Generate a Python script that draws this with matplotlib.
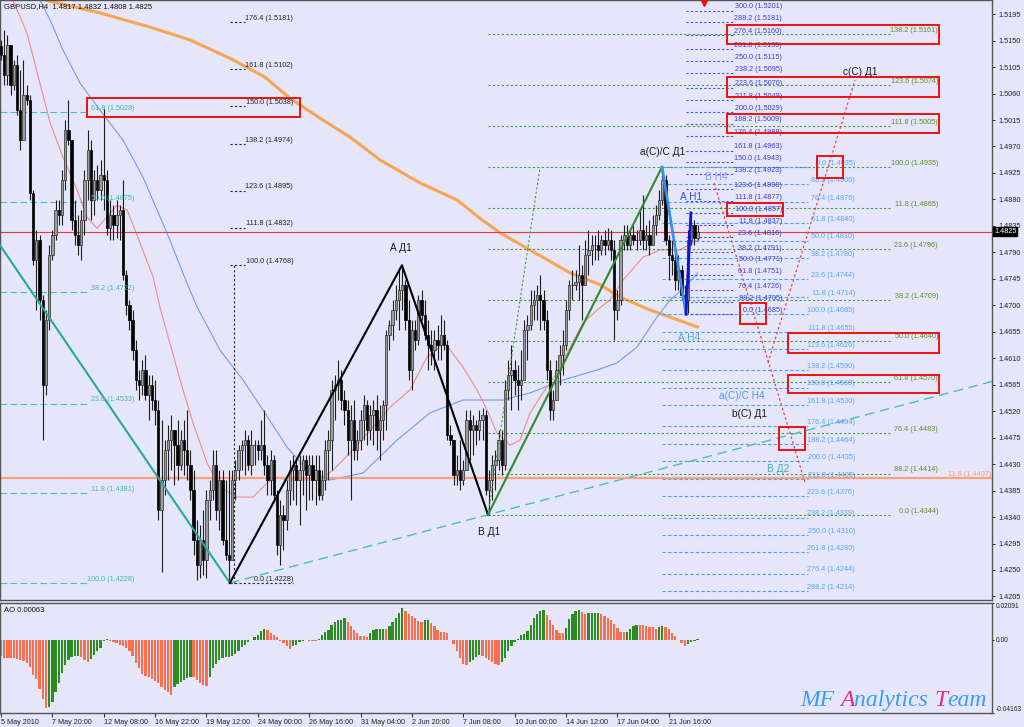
#import libraries
import numpy as np
import matplotlib.pyplot as plt
from matplotlib.transforms import blended_transform_factory

plt.rcParams['font.family'] = ['Liberation Sans', 'DejaVu Sans']

#GBPUSD H4 candles, prices in points (1e-4)
open_first = 15140
close_pts = [15125, 15091, 15142, 15074, 15108, 15032, 14981, 15057, 15049, 14891,
             14777, 14811, 14709, 14564, 14675, 14785, 14819, 14862, 14853, 14913,
             14998, 14981, 14845, 14819, 14802, 14845, 14913, 14964, 14879, 14913,
             14896, 14921, 14913, 14831, 14853, 14836, 14853, 14862, 14751, 14700,
             14675, 14624, 14573, 14564, 14590, 14547, 14564, 14539, 14522, 14352,
             14403, 14454, 14471, 14488, 14462, 14428, 14471, 14454, 14428, 14386,
             14301, 14258, 14301, 14267, 14369, 14386, 14428, 14352, 14403, 14301,
             14275, 14267, 14403, 14420, 14454, 14462, 14471, 14428, 14462, 14462,
             14454, 14462, 14428, 14403, 14437, 14377, 14292, 14343, 14335, 14386,
             14420, 14428, 14403, 14420, 14437, 14411, 14428, 14403, 14420, 14377,
             14403, 14454, 14471, 14556, 14564, 14573, 14539, 14522, 14471, 14505,
             14454, 14471, 14505, 14530, 14488, 14513, 14522, 14488, 14505, 14530,
             14649, 14666, 14692, 14709, 14726, 14734, 14675, 14590, 14658, 14641,
             14709, 14683, 14649, 14632, 14624, 14641, 14632, 14649, 14632, 14479,
             14471, 14411, 14420, 14403, 14420, 14505, 14488, 14496, 14488, 14505,
             14513, 14386, 14403, 14428, 14437, 14471, 14428, 14556, 14581, 14590,
             14573, 14564, 14573, 14658, 14666, 14700, 14709, 14717, 14709, 14675,
             14590, 14522, 14539, 14590, 14615, 14632, 14692, 14734, 14734, 14739,
             14751, 14734, 14785, 14794, 14802, 14802, 14794, 14811, 14802, 14811,
             14794, 14692, 14709, 14811, 14819, 14802, 14819, 14811, 14811, 14828,
             14811, 14819, 14802, 14836, 14853, 14879, 14913, 14811, 14785, 14777,
             14743, 14760, 14717, 14709, 14811, 14836, 14814, 14825]
high_pts = [15151, 15168, 15159, 15125, 15117, 15125, 15100, 15117, 15074, 15057,
            14896, 14828, 14819, 14717, 14692, 14802, 14828, 14879, 14879, 14930,
            15015, 15049, 14947, 14879, 14853, 14862, 14930, 14998, 14981, 14930,
            14938, 14947, 15035, 14930, 14879, 14870, 14879, 14870, 14913, 14760,
            14709, 14692, 14641, 14590, 14607, 14615, 14581, 14581, 14573, 14539,
            14505, 14471, 14496, 14513, 14471, 14505, 14488, 14505, 14522, 14454,
            14420, 14335, 14326, 14352, 14386, 14403, 14454, 14454, 14420, 14420,
            14403, 14420, 14420, 14437, 14462, 14471, 14488, 14479, 14488, 14471,
            14471, 14505, 14522, 14445, 14454, 14445, 14386, 14369, 14360, 14403,
            14437, 14445, 14437, 14445, 14445, 14445, 14445, 14445, 14445, 14445,
            14420, 14471, 14488, 14573, 14581, 14607, 14590, 14556, 14539, 14530,
            14539, 14488, 14522, 14547, 14539, 14530, 14539, 14547, 14530, 14539,
            14658, 14675, 14709, 14734, 14760, 14767, 14743, 14709, 14675, 14675,
            14717, 14726, 14709, 14675, 14658, 14658, 14666, 14683, 14675, 14641,
            14496, 14471, 14445, 14471, 14437, 14522, 14522, 14513, 14505, 14522,
            14525, 14522, 14420, 14445, 14454, 14488, 14488, 14573, 14607, 14632,
            14607, 14598, 14624, 14675, 14683, 14726, 14726, 14734, 14751, 14726,
            14692, 14607, 14556, 14607, 14632, 14658, 14709, 14743, 14760, 14760,
            14802, 14768, 14811, 14828, 14819, 14819, 14828, 14819, 14828, 14831,
            14828, 14811, 14726, 14819, 14836, 14836, 14828, 14836, 14828, 14862,
            14887, 14836, 14845, 14853, 14870, 14896, 14933, 14921, 14819, 14811,
            14794, 14785, 14768, 14734, 14828, 14853, 14845, 14836]
low_pts = [15117, 15074, 15074, 15057, 15066, 15023, 14964, 15006, 15040, 14879,
           14768, 14692, 14675, 14471, 14547, 14658, 14777, 14811, 14836, 14836,
           14896, 14972, 14828, 14802, 14785, 14777, 14819, 14879, 14845, 14853,
           14879, 14879, 14862, 14819, 14811, 14811, 14814, 14811, 14743, 14683,
           14658, 14607, 14556, 14539, 14547, 14539, 14505, 14522, 14496, 14335,
           14247, 14377, 14403, 14420, 14394, 14403, 14420, 14411, 14403, 14369,
           14275, 14233, 14236, 14241, 14236, 14335, 14369, 14335, 14318, 14292,
           14267, 14228, 14267, 14369, 14403, 14420, 14411, 14420, 14411, 14428,
           14437, 14437, 14411, 14377, 14377, 14369, 14275, 14258, 14284, 14318,
           14360, 14369, 14360, 14326, 14377, 14352, 14369, 14369, 14360, 14369,
           14369, 14386, 14403, 14420, 14505, 14539, 14522, 14496, 14445, 14369,
           14437, 14437, 14454, 14471, 14462, 14471, 14462, 14454, 14437, 14471,
           14488, 14624, 14641, 14675, 14658, 14692, 14658, 14573, 14556, 14624,
           14632, 14675, 14641, 14590, 14598, 14590, 14607, 14607, 14624, 14471,
           14462, 14394, 14394, 14386, 14394, 14420, 14437, 14445, 14462, 14471,
           14471, 14377, 14343, 14369, 14386, 14420, 14411, 14420, 14539, 14522,
           14547, 14522, 14539, 14573, 14607, 14658, 14675, 14675, 14658, 14658,
           14573, 14505, 14505, 14539, 14564, 14581, 14624, 14675, 14709, 14726,
           14709, 14675, 14751, 14751, 14768, 14777, 14777, 14785, 14785, 14794,
           14777, 14641, 14675, 14700, 14794, 14794, 14794, 14802, 14794, 14802,
           14794, 14794, 14785, 14802, 14819, 14845, 14870, 14802, 14743, 14751,
           14726, 14726, 14709, 14687, 14687, 14802, 14802, 14811]

#Awesome Oscillator, in 1e-4
ao_pts = [-95, -104, -104, -104, -104, -110, -114, -123, -133, -152,
          -199, -224, -280, -337, -388, -385, -351, -299, -246, -190,
          -142, -117, -99, -93, -91, -99, -117, -129, -110, -85,
          -63, -47, -8, 4, -9, -15, -19, -28, -38, -47,
          -66, -91, -133, -161, -193, -205, -214, -224, -233, -246,
          -269, -288, -298, -316, -269, -250, -239, -229, -220, -210,
          -212, -227, -246, -256, -265, -212, -163, -136, -117, -106,
          -100, -99, -91, -80, -61, -42, -28, -15, -4, 15,
          28, 49, 64, 53, 38, 28, 15, -6, -19, -38,
          -53, -38, -27, -15, -9, -4, -5, -6, -7, 6,
          28, 42, 53, 85, 99, 112, 114, 121, 102, 80,
          53, 36, 21, 19, 17, 38, 53, 61, 63, 64,
          59, 76, 99, 121, 155, 178, 165, 148, 135, 121,
          108, 102, 110, 112, 95, 76, 57, 47, 44, 38,
          -4, -23, -61, -106, -140, -144, -125, -116, -100, -87,
          -91, -102, -116, -127, -140, -144, -129, -104, -66, -38,
          -11, 4, 25, 32, 51, 85, 123, 148, 165, 171,
          142, 114, 85, 53, 38, 36, 66, 117, 144, 165,
          169, 157, 148, 150, 152, 153, 155, 148, 138, 125,
          112, 91, 66, 47, 42, 45, 61, 76, 85, 83,
          82, 80, 74, 70, 64, 70, 76, 70, 59, 38,
          19, -4, -19, -38, -25, -15, -6, 4]

#moving averages (bar index, points)
ma_red_bar = [3.7, 8.1, 12.1, 15.3, 19.3, 23.7, 26.8, 29.9, 33.0, 36.1, 39.3, 43.3, 47.4, 49.5,
              55.8, 59.8, 64.2, 68.2, 73.5, 78.5, 82.9, 86.0, 89.1, 93.1, 99.4, 103.4, 108.7,
              115.9, 121.2, 127.4, 132.7, 138.3, 143.9, 148.3, 151.4, 154.5, 158.6, 161.7,
              164.8, 168.8, 173.2, 177.3, 181.3, 185.7, 189.7, 193.8, 200.0, 205.3, 211.5, 217.0]
ma_red = [15219, 15163, 15078, 15010, 14952, 14896, 14850, 14831, 14850, 14870, 14862, 14806,
          14748, 14697, 14573, 14500, 14432, 14391, 14374, 14374, 14398, 14408, 14403, 14403,
          14403, 14420, 14449, 14493, 14527, 14556, 14612, 14636, 14595, 14556, 14522, 14483,
          14462, 14471, 14517, 14551, 14585, 14629, 14670, 14692, 14709, 14743, 14782, 14794,
          14794, 14811]
ma_blue_bar = [12.1, 15.3, 19.3, 24.6, 30.8, 38.0, 44.2, 51.7, 57.9, 61.1, 68.2, 75.4, 81.6,
               89.1, 95.3, 102.5, 112.8, 123.4, 133.6, 143.9, 156.4, 164.8, 175.1, 185.7,
               191.9, 198.1, 203.7, 208.4, 213.1, 217.0]
ma_blue = [15219, 15185, 15134, 15078, 15032, 14981, 14918, 14823, 14738, 14697, 14624, 14573,
           14522, 14459, 14420, 14403, 14415, 14471, 14517, 14539, 14539, 14551, 14573, 14590,
           14602, 14629, 14675, 14709, 14731, 14755]
ma_orange_bar = [13.7, 30.8, 46.4, 58.9, 71.3, 82.2, 90.0, 99.4, 108.7, 118.1, 130.5, 142.1,
                 149.2, 155.5, 164.8, 177.3, 186.6, 192.8, 202.2, 208.4, 217.0]
ma_orange = [15219, 15197, 15173, 15151, 15120, 15088, 15052, 15018, 14986, 14947, 14908,
             14879, 14848, 14823, 14794, 14755, 14735, 14714, 14692, 14680, 14663]

#fibonacci objects: levels and prices
teal_lv = [61.8, 50.0, 38.2, 23.6, 11.8, 100.0]
teal_px = [1.5028, 1.4875, 1.4722, 1.4533, 1.4381, 1.4228]
black_lv = [100.0, 111.8, 123.6, 138.2, 150.0, 161.8, 176.4]
black_px = [1.4768, 1.4832, 1.4895, 1.4974, 1.5038, 1.5102, 1.5181]
h1_lv = [300.0, 288.2, 276.4, 261.8, 250.0, 238.2, 223.6, 211.8, 200.0, 188.2, 176.4, 161.8,
         150.0, 138.2, 123.6, 111.8, 100.0, 11.8, 23.6, 38.2, 50.0, 61.8, 76.4, 88.2, 0.0]
h1_px = [1.5201, 1.5181, 1.5160, 1.5135, 1.5115, 1.5095, 1.5070, 1.5049, 1.5029, 1.5009,
         1.4988, 1.4963, 1.4943, 1.4923, 1.4898, 1.4877, 1.4857, 1.4837, 1.4816, 1.4791,
         1.4771, 1.4751, 1.4726, 1.4705, 1.4685]
h4_lv = [0.0, 88.2, 76.4, 61.8, 50.0, 38.2, 23.6, 11.8, 100.0, 111.8, 123.6, 138.2, 150.0,
         161.8, 176.4, 188.2, 200.0, 211.8, 223.6, 238.2, 250.0, 261.8, 276.4, 288.2]
h4_px = [1.4935, 1.4906, 1.4876, 1.4840, 1.4810, 1.4780, 1.4744, 1.4714, 1.4685, 1.4655,
         1.4626, 1.4590, 1.4560, 1.4530, 1.4494, 1.4464, 1.4435, 1.4405, 1.4376, 1.4339,
         1.4310, 1.4280, 1.4244, 1.4214]
d1_lv = [138.2, 123.6, 111.8, 100.0, 11.8, 23.6, 38.2, 50.0, 61.8, 76.4, 88.2, 0.0]
d1_px = [1.5161, 1.5074, 1.5005, 1.4935, 1.4865, 1.4796, 1.4709, 1.4640, 1.4570, 1.4483,
         1.4414, 1.4344]

#wave points (bar, price)
wave_black_bar = [71.3, 124.9, 151.7]
wave_black_px = [1.4228, 1.4768, 1.4344]
wave_green_bar = [151.7, 205.9]
wave_green_px = [1.4344, 1.4935]
wave_h4_bar = [205.9, 213.4]
wave_h4_px = [1.4935, 1.4685]
wave_h1_bar = [213.4, 214.9]
wave_h1_px = [1.4685, 1.4857]

#wave labels
wave_text = ['A Д1', 'B Д1', 'a(C)/C Д1', 'c(C) Д1', 'b(C) Д1', 'a(C)/C H4', 'B Д2', 'A H4', 'A H1', 'B H4']
wave_bar = [124.6, 152.0, 206.2, 267.6, 233.3, 230.8, 242.0, 214.3, 215.0, 222.7]
wave_pts = [14797, 14315, 14961, 15097, 14515, 14546, 14422, 14644, 14884, 14918]
wave_col = ['#1a1a1a', '#1a1a1a', '#1a1a1a', '#1a1a1a', '#1a1a1a', '#4a9ae8', '#40b0b0',
            '#5aa6ea', '#3a4ff0', '#7f9cff']

#red boxes (bar from, bar to, low, high in points)
box_x0 = [26.8, 226.2, 226.2, 226.2, 254.2, 226.2, 230.2, 245.2, 245.2, 242.4]
box_x1 = [93.1, 292.2, 292.2, 292.2, 262.3, 243.6, 238.3, 292.2, 292.2, 250.5]
box_lo = [15020, 15144, 15054, 14993, 14916, 14852, 14668, 14619, 14551, 14454]
box_hi = [15052, 15176, 15088, 15025, 14954, 14874, 14704, 14653, 14581, 14493]

tick_bars = [0, 16, 32, 48, 64, 80, 96, 112, 128, 144, 160, 176, 192, 208]
tick_text = ['5 May 2010', '7 May 20:00', '12 May 08:00', '16 May 22:00', '19 May 12:00',
             '24 May 00:00', '26 May 16:00', '31 May 04:00', '2 Jun 20:00', '7 Jun 08:00',
             '10 Jun 00:00', '14 Jun 12:00', '17 Jun 04:00', '21 Jun 16:00']

last_price = 1.4825
fib_orange = 1.4407

#arrays
close = np.array(close_pts) / 1e4
high = np.array(high_pts) / 1e4
low = np.array(low_pts) / 1e4
opens = np.concatenate([[open_first / 1e4], close[:-1]])
bars = np.arange(len(close))
ao = np.array(ao_pts) / 1e4

BG = '#e6e6fa'
FS = 5.2
fig = plt.figure(figsize=(10.24, 7.27), dpi=100, facecolor=BG)
ax = fig.add_axes([0, 127 / 727, 992 / 1024, 600 / 727], facecolor=BG)
ax2 = fig.add_axes([0, 14 / 727, 992 / 1024, 110 / 727], facecolor=BG)
XL = (-0.31, 308.7)

#moving averages
ax.plot(ma_orange_bar, np.array(ma_orange) / 1e4, color='#f7a555', lw=2.2, zorder=2)
ax.plot(ma_blue_bar, np.array(ma_blue) / 1e4, color='#6f9bf0', lw=0.8, zorder=2)
ax.plot(ma_red_bar, np.array(ma_red) / 1e4, color='#f08a8a', lw=0.8, zorder=2)

#horizontal lines
ax.axhline(fib_orange, color='#ffa07a', lw=1.6, zorder=2)
ax.text(XL[1] - 0.3, fib_orange, '11.8 (%.4f)' % fib_orange, ha='right', va='bottom',
        fontsize=FS, color='#ff9b70')
ax.axhline(last_price, color='#e83838', lw=0.8, zorder=2)

#candles
up = close >= opens
ax.vlines(bars, np.minimum(low, np.minimum(opens, close)), np.maximum(high, np.maximum(opens, close)),
          color='#1e1e1e', lw=0.8, zorder=3)
ax.bar(bars[up], (close - opens)[up], bottom=opens[up], width=0.72, color='#9c9c9c',
       edgecolor='#2a2a2a', lw=0.5, zorder=4)
ax.bar(bars[~up], (opens - close)[~up], bottom=close[~up], width=0.72, color='black',
       edgecolor='black', lw=0.5, zorder=4)

dot = (0, (2, 2))


def fib(levels, prices, x0, x1, xt, lcol, tcol, ls):
    for lv, p in zip(levels, prices):
        ax.plot([x0, x1], [p, p], color=lcol, lw=0.8, ls=ls, zorder=2)
        ax.text(xt, p + 0.00003, '%.1f (%.4f)' % (lv, p), ha='right', va='bottom',
                fontsize=FS, color=tcol, zorder=6)


fib(teal_lv, teal_px, XL[0], 27.7, 41.7, '#48c0b8', '#40b8b0', (0, (6, 3)))
fib(black_lv, black_px, 71.3, 76.0, 91.0, '#222222', '#222222', dot)
ax.plot([71.3, 91.0], [1.4228, 1.4228], color='#222222', lw=0.8, ls=dot)
ax.text(91.0, 1.4228 + 0.00003, '0.0 (1.4228)', ha='right', va='bottom', fontsize=FS, color='#222222')
ax.plot([72.6, 72.6], [1.4228, 1.4768], color='#222222', lw=0.8, ls=dot)
fib(d1_lv, d1_px, 151.7, 277.0, 291.9, '#3c9a3c', '#5a8c2a', dot)
fib(h4_lv, h4_px, 205.9, 251.4, 266.0, '#4aa0f0', '#55a5f5', (0, (3, 2)))
fib(h1_lv, h1_px, 213.4, 228.0, 243.3, '#4848f0', '#3c3cd8', dot)

#trend lines
ax.plot([XL[0], 71.3], [1.4802, 1.4228], color='#26a89e', lw=1.5, zorder=5)
slope = (1.4344 - 1.4228) / (151.7 - 71.3)
ax.plot([71.3, XL[1]], [1.4228, 1.4228 + slope * (XL[1] - 71.3)], color='#48c0b8', lw=1.0,
        ls=(0, (7, 4)), zorder=5)
ax.plot(wave_black_bar, wave_black_px, color='black', lw=1.5, zorder=5)
ax.plot(wave_green_bar, wave_green_px, color='#2e8b2e', lw=1.5, zorder=5)
ax.plot([151.7, 167.9], [1.4344, 1.4935], color='#3c9a3c', lw=0.8, ls=dot, zorder=5)
ax.plot(wave_h4_bar, wave_h4_px, color='#3c8cf0', lw=2.0, zorder=5)
ax.plot(wave_h1_bar, wave_h1_px, color='#1414d0', lw=2.0, zorder=5)
ax.plot([222.1, 250.5], [1.4908, 1.4398], color='#f04040', lw=0.9, ls=dot, zorder=5)
ax.plot([238.9, 266.0], [1.4602, 1.5083], color='#f04040', lw=0.9, ls=dot, zorder=5)

#red boxes
for x0, x1, lo, hi in zip(box_x0, box_x1, box_lo, box_hi):
    ax.add_patch(plt.Rectangle((x0, lo / 1e4), x1 - x0, (hi - lo) / 1e4, fill=False,
                               edgecolor='#ee1111', lw=1.4, zorder=7))

#wave labels
for t, b, p, c in zip(wave_text, wave_bar, wave_pts, wave_col):
    ax.text(b, p / 1e4, t, ha='center', va='center', fontsize=7.3, color=c, zorder=8)

ax.set_xlim(*XL)
ax.set_ylim(1.4199, 1.5219)
ax.set_xticks([])
ax.yaxis.tick_right()
yt = np.arange(1.4205, 1.5196, 0.0045)
ax.set_yticks(yt)
ax.set_yticklabels(['%.4f' % v for v in yt])
ax.tick_params(axis='y', labelsize=FS, length=2.5, width=0.7, pad=2, colors='#222222')
for s in ax.spines.values():
    s.set_color('#555555')
    s.set_linewidth(1.0)

tr = blended_transform_factory(ax.transAxes, ax.transData)
ax.text(1.002, last_price, '1.4825', transform=tr, fontsize=FS, color='white', va='center',
        ha='left', bbox=dict(boxstyle='square,pad=0.15', fc='black', ec='black'), zorder=10, clip_on=False)
ax.plot([219], [1.5214], marker='v', color='#ee1111', ms=4, zorder=9, clip_on=False)
ax.text(4 / 992, 1 - 7 / 600, 'GBPUSD,H4  1.4817 1.4832 1.4808 1.4825', transform=ax.transAxes,
        fontsize=5.5, va='center', ha='left', color='#111111')

#AO panel
prev = np.concatenate([[ao[0] + 1], ao[:-1]])
ao_col = np.where(ao > prev, '#2e8b22', '#fa6e50')
ax2.bar(bars, ao, width=0.72, color=ao_col, lw=0)
ax2.set_xlim(*XL)
ax2.set_ylim(-0.04163, 0.02091)
ax2.yaxis.tick_right()
ax2.set_yticks([-0.04163, 0.0, 0.02091])
ax2.set_yticklabels(['-0.04163', '0.00', '0.02091'])
labs = ax2.get_yticklabels()
labs[0].set_va('bottom')
labs[2].set_va('top')
ax2.tick_params(axis='y', labelsize=4.8, length=1.5, width=0.7, pad=1, colors='#222222')
ax2.set_xticks(tick_bars)
ax2.set_xticklabels(tick_text)
for l in ax2.get_xticklabels():
    l.set_ha('left')
ax2.tick_params(axis='x', labelsize=FS, length=3, width=0.7, pad=1.5, colors='#222222')
for s in ax2.spines.values():
    s.set_color('#555555')
    s.set_linewidth(1.0)
ax2.text(4 / 992, 1 - 7 / 110, 'AO 0.00063', transform=ax2.transAxes, fontsize=5.5,
         va='center', ha='left', color='#111111')

#watermark
wm = dict(fontsize=17, family='Liberation Serif', style='italic')
prev_t = fig.text(800 / 1024, 16 / 727, 'MF ', color='#3a9cff', ha='left', va='bottom', **wm)
parts = [('A', '#e8288c'), ('nalytics ', '#3a9cff'), ('T', '#e8288c'), ('eam', '#3a9cff')]
for s, c in parts:
    prev_t = ax2.annotate(s, xy=(1, 0), xycoords=prev_t, ha='left', va='bottom', color=c, **wm)

plt.savefig('out.png', dpi=100, facecolor=BG)
